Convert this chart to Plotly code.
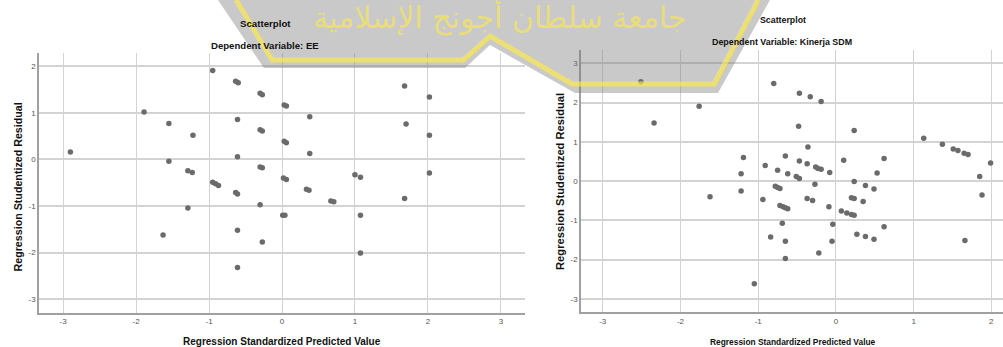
import plotly.graph_objects as go

# Canvas size in pixels
W, H = 1003, 347

# ---- Residual plot 1: Dependent Variable EE ----
ee_pred = [-2.90, -1.89, -1.55, -1.22, -1.55, -0.95, -0.635, -0.60, -0.61, -0.61,
           -0.30, -0.27, -0.30, -0.27, -0.30, -0.27, 0.03, 0.06, 0.03, 0.06,
           0.38, 0.38, 1.68, 2.02, 1.70, 2.02, -1.29, -1.23, 0.02, 0.06,
           1.00, 1.075, 2.02, -0.95, -0.91, -0.87, -0.635, -0.61, 0.335, 0.37,
           0.67, 0.71, 1.68, -0.30, -1.29, 0.01, 0.04, 1.075, -1.63, -0.61,
           -0.27, 1.075, -0.61]
ee_resid = [0.16, 1.02, 0.77, 0.52, -0.04, 1.91, 1.68, 1.65, 0.86, 0.06,
            1.42, 1.39, 0.64, 0.61, -0.16, -0.18, 1.17, 1.15, 0.39, 0.36,
            0.92, 0.13, 1.58, 1.34, 0.76, 0.52, -0.24, -0.28, -0.40, -0.43,
            -0.33, -0.38, -0.29, -0.49, -0.52, -0.56, -0.71, -0.74, -0.64, -0.66,
            -0.89, -0.91, -0.84, -0.97, -1.04, -1.20, -1.20, -1.20, -1.62, -1.52,
            -1.77, -2.01, -2.32]

# ---- Residual plot 2: Dependent Variable Kinerja SDM ----
sdm_pred = [-2.51, -2.34, -1.76, -0.80, -0.47, -0.33, -0.19, -0.48, 0.235, -0.36,
            1.13, 1.37, 1.51, 1.57, 1.65, 1.70, 1.99, 1.85, 1.88, 1.66,
            -1.19, -1.22, -1.22, -1.62, -0.94, -0.91, -0.65, -0.75, -0.62, -0.51,
            -0.47, -0.47, -0.37, -0.26, -0.23, -0.19, -0.08, 0.10, 0.62, 0.53,
            -0.78, -0.75, -0.72, -0.27, 0.235, 0.38, 0.49, -0.37, -0.30, 0.20,
            0.235, 0.35, -0.72, -0.68, -0.65, -0.62, -0.09, 0.07, 0.14, 0.20,
            0.235, -0.69, -0.04, 0.62, -0.84, 0.27, 0.38, 0.49, -0.65, -0.05,
            -0.22, -0.65, -1.05]
sdm_resid = [2.53, 1.48, 1.91, 2.49, 2.24, 2.15, 2.03, 1.40, 1.29, 0.87,
             1.09, 0.94, 0.82, 0.78, 0.71, 0.68, 0.46, 0.12, -0.35, -1.51,
             0.60, 0.19, -0.25, -0.40, -0.47, 0.40, 0.64, 0.28, 0.19, 0.12,
             0.07, 0.51, 0.44, 0.36, 0.32, 0.30, 0.22, 0.53, 0.58, 0.21,
             -0.13, -0.16, -0.19, -0.08, -0.01, -0.11, -0.20, -0.44, -0.49, -0.42,
             -0.44, -0.52, -0.62, -0.65, -0.68, -0.70, -0.65, -0.76, -0.81, -0.85,
             -0.87, -1.07, -1.10, -1.16, -1.42, -1.35, -1.41, -1.48, -1.53, -1.53,
             -1.83, -1.97, -2.61]

tick_vals = [-3, -2, -1, 0, 1, 2, 3]
tick_text = ["-3", "-2", "-1", "0", "1", "2", "3"]

FONT = "Liberation Sans, Arial, Helvetica, sans-serif"
DOT = "#6b6b6b"
GRID = "#d3d3d3"
AXLINE = "#a0a0a0"


def fx(x):
    """pixel column -> paper x"""
    return x / W


def fy(y):
    """pixel row (from top) -> paper y"""
    return 1 - y / H


fig = go.Figure()
fig.add_trace(go.Scatter(x=ee_pred, y=ee_resid, mode="markers", xaxis="x", yaxis="y",
                         marker=dict(color=DOT, size=5.5), showlegend=False))
fig.add_trace(go.Scatter(x=sdm_pred, y=sdm_resid, mode="markers", xaxis="x2", yaxis="y2",
                         marker=dict(color=DOT, size=5.5), showlegend=False))

tickfont = dict(family=FONT, size=8, color="#555555")
common_x = dict(tickvals=tick_vals, ticktext=tick_text, showgrid=True, gridcolor=GRID,
                gridwidth=1, zeroline=False, showline=True, linecolor=AXLINE, linewidth=1.5,
                ticks="", tickfont=tickfont, fixedrange=True)
common_y = dict(tickvals=tick_vals, ticktext=tick_text, showgrid=True, gridcolor=GRID,
                gridwidth=1.5, zeroline=False, showline=True, linecolor=AXLINE, linewidth=1.5,
                ticks="", tickfont=tickfont, fixedrange=True)

fig.update_layout(
    width=W, height=H, autosize=False,
    margin=dict(l=0, r=0, t=0, b=0, pad=0),
    paper_bgcolor="white", plot_bgcolor="white",
    xaxis=dict(domain=[fx(39), fx(525)], range=[-3.33, 3.33], anchor="y", **common_x),
    yaxis=dict(domain=[fy(312.7), fy(53.3)], range=[-3.29, 2.28], anchor="x", **common_y),
    xaxis2=dict(domain=[fx(581), 1.0], range=[-3.28, 2.15], anchor="y2", **common_x),
    yaxis2=dict(domain=[fy(312.3), fy(50)], range=[-3.34, 3.34], anchor="x2", **common_y),
)


def label(text, x, y, size, angle=0, color="#111111"):
    fig.add_annotation(text=text, x=fx(x), y=fy(y), xref="paper", yref="paper",
                       xanchor="center", yanchor="middle", showarrow=False, textangle=angle,
                       font=dict(family=FONT, size=size, color=color, weight="bold"))


# Watermark: university crest band with Arabic name
crest = [(218, 0), (264, 68), (465, 68), (490, 45), (575, 93), (718, 93), (770, 0)]
band = [(236, 0), (272, 60), (463, 60), (490, 36), (572, 84), (714, 84), (758, 0)]


def path(points, close):
    s = "M " + " L ".join(f"{fx(x):.5f},{fy(y):.5f}" for x, y in points)
    return s + (" Z" if close else "")


fig.add_shape(type="path", path=path(crest, True), xref="paper", yref="paper",
              fillcolor="rgba(120,120,120,0.40)", line=dict(width=0), layer="above")
fig.add_shape(type="path", path=path(band, False), xref="paper", yref="paper",
              line=dict(color="rgba(255,236,70,0.65)", width=5), layer="above")
fig.add_annotation(text="جامعة سلطان أجونج الإسلامية", x=fx(500), y=fy(17), xref="paper",
                   yref="paper", xanchor="center", yanchor="middle", showarrow=False,
                   font=dict(family="DejaVu Sans, sans-serif", size=30,
                             color="rgba(255,236,70,0.6)"))

# Titles and axis titles
label("Scatterplot", 265, 23, 9.7)
label("Dependent Variable: EE", 265, 45, 9.6)
label("Regression Standardized Predicted Value", 282, 341.5, 10)
label("Regression Studentized Residual", 17, 187.5, 10.7, angle=-90)

label("Scatterplot", 782.7, 20, 8.8)
label("Dependent Variable: Kinerja SDM", 782.3, 42, 8.9)
label("Regression Standardized Predicted Value", 792.5, 341.5, 8.4)
label("Regression Studentized Residual", 560, 182, 11.2, angle=-90)

fig.write_html("out.html")
